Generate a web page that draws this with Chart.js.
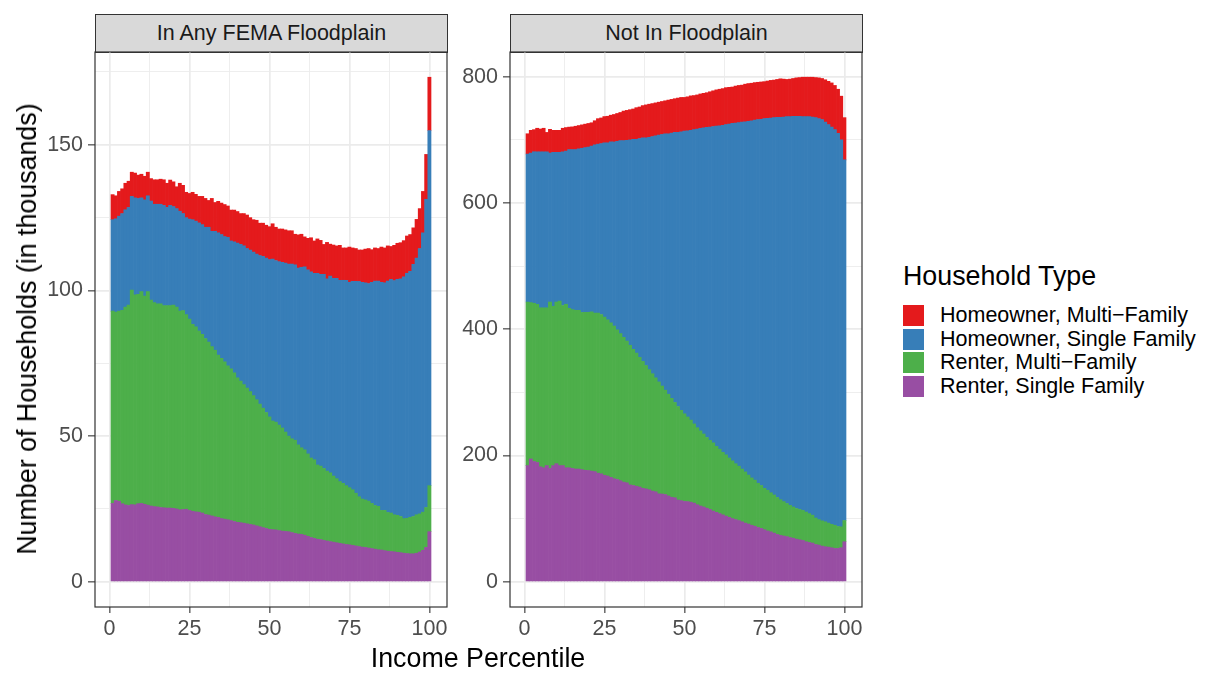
<!DOCTYPE html>
<html>
<head>
<meta charset="utf-8">
<script src="https://cdn.jsdelivr.net/npm/chart.js@4.4.1/dist/chart.umd.min.js"></script>
<style>
    body { margin: 0; width: 1207px; height: 673px; background: #fff; position: relative; overflow: hidden;
           font-family: "Liberation Sans", Arial, Helvetica, sans-serif; }
    canvas { position: absolute; }
    .strip { position: absolute; top: 14px; height: 39px; width: 353px; box-sizing: border-box;
             background: #D9D9D9; border: 1.2px solid #333; text-align: center; line-height: 37px;
             font-size: 21.5px; color: #1A1A1A; }
    .axis-title { position: absolute; font-size: 26.8px; color: #000; white-space: nowrap;
                  transform: translate(-50%, -50%); line-height: 30px; }
    #legend { position: absolute; left: 903px; top: 260px; color: #000; }
    #legend .lg-title { font-size: 26.8px; line-height: 32px; height: 43.5px; }
    #legend .lg-row { height: 23.7px; display: flex; align-items: center; font-size: 21.5px; white-space: nowrap; }
    #legend .key { width: 21px; height: 21px; margin-right: 16px; flex: none; }
</style>
</head>
<body>
<div class="strip" style="left:95px" id="strip0"></div>
<div class="strip" style="left:510px" id="strip1"></div>
<canvas id="floodChart" width="460" height="633" style="left:0px; top:40px"></canvas>
<canvas id="dryChart" width="460" height="633" style="left:415px; top:40px"></canvas>
<div class="axis-title" style="left:478px; top:658px">Income Percentile</div>
<div class="axis-title" style="left:27px; top:329px; transform: translate(-50%, -50%) rotate(-90deg)">Number of Households (in thousands)</div>
<div id="legend"></div>

<script>
const percentiles = Array.from({ length: 100 }, (_, i) => i + 1);
const panelTitles = ['In Any FEMA Floodplain', 'Not In Floodplain'];
const legendTitle = 'Household Type';
// legend order (top of stack first)
const seriesNames = ['Homeowner, Multi\u2212Family', 'Homeowner, Single Family', 'Renter, Multi\u2212Family', 'Renter, Single Family'];
const seriesColors = ['#E41A1C', '#377EB8', '#4DAF4A', '#984EA3'];
const xTickLabels = [0, 25, 50, 75, 100];
const floodYTicks = [0, 50, 100, 150];
const dryYTicks = [0, 200, 400, 600, 800];

// In any FEMA floodplain, households in thousands, percentile 1..100
const floodRenterSingle = [
    26.9, 27.9, 27.6, 26.8, 26.4, 26.2, 26.5, 26.4, 26.8, 26.9,
    26.6, 26.3, 26.0, 25.8, 25.7, 25.5, 25.4, 25.3, 25.3, 25.2,
    25.0, 24.7, 24.8, 24.9, 24.5, 24.2, 24.0, 23.9, 23.6, 23.1,
    22.9, 22.6, 22.3, 22.1, 21.7, 21.5, 21.3, 21.0, 20.7, 20.4,
    20.3, 20.1, 19.9, 19.7, 19.5, 19.2, 18.9, 18.6, 18.3, 18.0,
    17.9, 17.8, 17.6, 17.4, 17.3, 17.2, 16.9, 16.6, 16.4, 16.3,
    16.0, 15.6, 15.2, 14.9, 14.6, 14.5, 14.2, 14.0, 13.8, 13.6,
    13.4, 13.2, 13.0, 12.8, 12.7, 12.5, 12.3, 12.1, 11.9, 11.8,
    11.6, 11.4, 11.2, 11.0, 10.9, 10.7, 10.5, 10.4, 10.3, 10.1,
    10.0, 9.8, 9.7, 9.6, 9.6, 9.8, 10.2, 10.8, 11.8, 17.2
];
const floodRenterMulti = [
    66.0, 64.7, 65.3, 66.4, 67.9, 68.8, 73.6, 72.1, 71.9, 72.7,
    71.5, 73.3, 70.7, 70.0, 69.7, 69.9, 69.4, 69.5, 69.5, 69.8,
    69.3, 68.2, 68.3, 66.8, 65.7, 64.2, 63.5, 62.2, 61.3, 60.4,
    59.4, 58.1, 57.2, 55.7, 55.0, 54.0, 52.8, 52.1, 51.0, 49.6,
    48.6, 47.6, 46.6, 45.6, 44.4, 43.3, 42.1, 41.0, 39.8, 38.6,
    37.3, 37.0, 36.2, 35.4, 34.1, 32.8, 32.2, 32.0, 30.6, 29.7,
    29.3, 28.3, 27.3, 27.0, 25.5, 25.2, 24.7, 24.0, 23.6, 22.7,
    22.0, 21.2, 20.8, 20.2, 19.6, 19.1, 18.1, 17.1, 16.5, 16.3,
    16.1, 15.5, 15.0, 14.9, 13.6, 13.8, 13.3, 13.2, 12.7, 12.7,
    12.4, 11.9, 12.1, 12.5, 12.8, 13.2, 13.1, 13.1, 13.7, 15.8
];
const floodOwnerSingle = [
    31.4, 32.0, 32.6, 33.2, 33.4, 33.5, 32.2, 33.3, 32.9, 32.2,
    33.0, 32.9, 34.0, 33.8, 34.2, 34.2, 34.4, 33.7, 34.4, 33.8,
    33.8, 34.3, 33.3, 33.3, 34.3, 35.9, 36.3, 37.1, 37.7, 38.2,
    39.4, 39.6, 40.8, 42.0, 42.5, 43.0, 44.1, 43.9, 45.0, 46.3,
    46.9, 47.6, 47.9, 48.6, 49.3, 50.0, 51.0, 52.1, 53.0, 54.0,
    55.6, 55.5, 56.1, 56.9, 58.0, 59.1, 60.0, 60.2, 60.7, 61.9,
    62.8, 63.2, 63.9, 64.0, 65.8, 65.8, 66.6, 66.0, 67.5, 67.9,
    68.8, 69.1, 69.7, 70.5, 70.5, 71.5, 72.7, 73.9, 74.4, 74.5,
    74.7, 75.9, 77.0, 77.3, 78.3, 78.1, 79.4, 80.2, 80.4, 81.0,
    81.6, 83.0, 84.1, 84.5, 86.6, 88.1, 91.1, 95.9, 105.8, 121.9
];
const floodOwnerMulti = [
    8.6, 7.9, 8.5, 8.5, 9.1, 9.0, 8.3, 8.5, 8.0, 8.1,
    8.1, 8.1, 7.7, 8.4, 8.4, 8.6, 8.8, 8.3, 8.7, 8.5,
    7.5, 9.6, 9.7, 8.7, 8.8, 9.4, 9.2, 9.1, 9.7, 9.9,
    9.2, 11.3, 9.9, 10.8, 10.8, 11.0, 10.8, 10.6, 10.9, 10.8,
    10.6, 11.1, 11.5, 11.1, 11.1, 11.6, 11.1, 11.4, 11.3, 11.3,
    12.1, 11.4, 11.2, 11.4, 11.4, 11.4, 11.4, 10.5, 11.4, 11.4,
    10.3, 10.8, 11.7, 11.1, 11.8, 11.7, 10.3, 12.5, 11.0, 11.4,
    11.1, 12.0, 11.1, 11.1, 12.1, 11.5, 11.3, 10.8, 11.1, 11.6,
    12.0, 11.2, 11.4, 11.2, 12.1, 12.0, 12.1, 11.3, 12.1, 12.4,
    12.4, 12.4, 12.8, 12.6, 12.5, 13.3, 13.7, 14.2, 15.4, 18.3
];

// Not in floodplain, households in thousands, percentile 1..100
const dryRenterSingle = [
    184.0, 194.5, 190.5, 189.0, 182.0, 180.5, 184.0, 179.5, 184.0, 187.0,
    184.0, 184.0, 180.5, 180.5, 179.5, 178.5, 178.5, 177.5, 176.5, 176.3,
    175.2, 174.5, 172.0, 171.0, 168.7, 167.5, 165.4, 163.2, 162.0, 160.0,
    157.8, 156.7, 153.4, 152.5, 151.3, 150.0, 148.0, 147.0, 145.8, 143.6,
    142.5, 139.3, 139.0, 138.2, 136.0, 133.8, 133.0, 129.5, 128.5, 127.3,
    127.0, 126.0, 124.5, 122.0, 120.0, 118.5, 116.5, 114.5, 112.0, 110.0,
    108.0, 106.0, 104.0, 102.0, 100.0, 98.5, 97.0, 95.0, 93.0, 91.5,
    89.5, 88.0, 86.0, 84.5, 82.5, 80.5, 79.0, 77.0, 75.0, 73.5,
    72.5, 71.5, 70.0, 69.0, 67.5, 66.5, 65.5, 63.4, 62.3, 61.3,
    59.1, 58.1, 56.5, 55.5, 54.9, 53.8, 52.8, 52.8, 54.0, 63.4
];
const dryRenterMulti = [
    259.0, 247.5, 250.5, 250.5, 252.0, 253.5, 250.0, 263.5, 252.0, 256.0,
    260.5, 253.5, 259.0, 252.5, 251.5, 251.5, 251.5, 249.0, 250.0, 250.2,
    252.3, 251.0, 253.5, 252.3, 250.3, 247.5, 244.6, 241.8, 237.0, 233.0,
    229.2, 224.3, 221.1, 215.5, 210.7, 205.5, 201.0, 195.5, 190.2, 185.9,
    180.5, 177.2, 171.0, 165.3, 161.0, 156.7, 151.0, 148.0, 143.0, 138.7,
    134.0, 130.0, 125.5, 122.0, 119.0, 115.5, 112.0, 109.5, 108.0, 104.5,
    102.0, 99.0, 97.0, 94.0, 91.5, 88.5, 86.0, 83.5, 81.0, 77.5,
    75.0, 73.0, 70.0, 68.0, 65.5, 64.5, 62.0, 60.5, 58.5, 56.5,
    54.5, 52.5, 51.0, 49.5, 48.5, 48.0, 47.5, 47.1, 45.7, 44.2,
    41.9, 40.4, 40.0, 39.5, 38.1, 37.2, 36.7, 34.7, 33.0, 33.6
];
const dryOwnerSingle = [
    234.4, 237.0, 240.0, 241.5, 247.0, 247.0, 247.0, 236.0, 244.0, 237.0,
    235.5, 243.5, 242.5, 251.4, 253.4, 254.4, 255.5, 260.0, 261.0, 261.7,
    262.5, 266.5, 267.5, 270.7, 276.3, 280.3, 286.5, 291.5, 298.5, 305.6,
    311.6, 318.2, 325.2, 332.8, 338.8, 346.5, 354.0, 360.5, 368.0, 375.6,
    383.2, 390.8, 398.4, 406.0, 412.5, 420.1, 427.6, 434.1, 441.2, 447.8,
    453.0, 459.0, 466.0, 473.0, 479.0, 485.0, 491.0, 496.0, 501.0, 507.0,
    512.0, 518.0, 523.0, 529.0, 534.5, 539.5, 544.0, 549.5, 554.5, 560.0,
    565.5, 570.0, 576.0, 580.0, 585.5, 589.0, 593.5, 597.5, 602.0, 605.5,
    609.0, 612.5, 615.5, 618.5, 621.0, 622.5, 623.5, 626.0, 628.5, 630.5,
    634.0, 635.0, 635.5, 633.0, 631.0, 629.0, 626.5, 622.5, 613.0, 571.0
];
const dryOwnerMulti = [
    32.1, 35.9, 35.0, 37.2, 36.0, 37.2, 30.6, 37.5, 34.9, 34.9,
    34.9, 37.2, 37.3, 35.6, 36.0, 37.0, 37.0, 37.1, 37.2, 37.6,
    36.9, 38.1, 40.4, 40.5, 41.4, 41.9, 42.4, 43.5, 44.1, 44.6,
    46.8, 47.3, 47.9, 47.9, 50.0, 49.9, 51.1, 52.2, 52.3, 52.2,
    52.2, 52.2, 52.2, 52.2, 53.3, 53.3, 53.4, 54.4, 54.3, 53.2,
    54.0, 54.5, 54.0, 54.0, 54.5, 54.5, 55.0, 56.0, 56.5, 57.5,
    58.0, 58.0, 58.5, 58.0, 57.5, 58.5, 59.0, 58.5, 59.5, 60.0,
    59.5, 59.5, 59.0, 59.0, 58.5, 59.0, 59.5, 59.5, 60.0, 61.0,
    60.0, 59.0, 59.5, 60.0, 61.0, 61.5, 62.5, 62.5, 62.5, 63.0,
    63.5, 64.5, 65.0, 67.0, 68.5, 70.0, 70.0, 70.0, 69.0, 67.0
];

const FONT = '"Liberation Sans", Arial, Helvetica, sans-serif';

const panelBorder = {
    id: 'panelBorder',
    afterDraw(chart) {
        const a = chart.chartArea;
        const ctx = chart.ctx;
        ctx.save();
        ctx.strokeStyle = '#333333';
        ctx.lineWidth = 1.2;
        ctx.strokeRect(a.left, a.top, a.right - a.left, a.bottom - a.top);
        ctx.restore();
    }
};

// major breaks plus the ggplot-style minor breaks halfway between them
function withMinor(major, max) {
    const half = (major[1] - major[0]) / 2;
    const out = [];
    for (let v = major[0]; v <= max; v += half) out.push(v);
    return out;
}

function makePanel(canvasId, bottomToTop, yMajor) {
    const totals = percentiles.map((_, i) => bottomToTop.reduce((s, arr) => s + arr[i], 0));
    const top = Math.max(...totals);
    const yMin = -0.05 * top, yMax = 1.05 * top;
    const yGrid = withMinor(yMajor, yMax);
    const xGrid = withMinor(xTickLabels, 105.5);
    const isMajorY = v => yMajor.includes(v);
    const isMajorX = v => xTickLabels.includes(v);

    // stack from the bottom: renter single, renter multi, owner single, owner multi
    const colorsBottomUp = seriesColors.slice().reverse();
    const namesBottomUp = seriesNames.slice().reverse();

    return new Chart(document.getElementById(canvasId), {
        type: 'bar',
        data: {
            datasets: bottomToTop.map((arr, k) => ({
                label: namesBottomUp[k],
                data: percentiles.map((p, i) => ({ x: p, y: arr[i] })),
                backgroundColor: colorsBottomUp[k],
                borderWidth: 0,
                stack: 'households',
                barPercentage: 1,
                categoryPercentage: 1
            }))
        },
        options: {
            responsive: false,
            animation: false,
            layout: { autoPadding: false, padding: { top: 12, right: 13, bottom: 0, left: 0 } },
            plugins: { legend: { display: false }, tooltip: { enabled: false } },
            scales: {
                x: {
                    type: 'linear',
                    min: -4.5, max: 105.5,
                    offset: false,
                    border: { display: false },
                    afterBuildTicks: axis => { axis.ticks = xGrid.map(v => ({ value: v })); },
                    afterFit: axis => {
                        axis.height = 66;
                        axis.paddingLeft = 0; axis.paddingRight = 0;
                    },
                    grid: {
                        offset: false,
                        color: '#EBEBEB',
                        lineWidth: c => isMajorX(c.tick.value) ? 1.7 : 0.85,
                        tickLength: 6,
                        tickWidth: 1.1,
                        tickColor: c => isMajorX(c.tick.value) ? '#333333' : 'rgba(0,0,0,0)'
                    },
                    ticks: {
                        autoSkip: false, maxRotation: 0, padding: 3,
                        color: '#4D4D4D',
                        font: { family: FONT, size: 21.5 },
                        callback: v => isMajorX(v) ? String(v) : ''
                    }
                },
                y: {
                    stacked: true,
                    min: yMin, max: yMax,
                    border: { display: false },
                    afterBuildTicks: axis => { axis.ticks = yGrid.map(v => ({ value: v })); },
                    afterFit: axis => {
                        axis.width = 95;
                        axis.paddingTop = 0; axis.paddingBottom = 0;
                    },
                    grid: {
                        color: '#EBEBEB',
                        lineWidth: c => isMajorY(c.tick.value) ? 1.7 : 0.85,
                        tickLength: 7,
                        tickWidth: 1.1,
                        tickColor: c => isMajorY(c.tick.value) ? '#333333' : 'rgba(0,0,0,0)'
                    },
                    ticks: {
                        padding: 5,
                        color: '#4D4D4D',
                        font: { family: FONT, size: 21.5 },
                        callback: v => isMajorY(v) ? String(v) : ''
                    }
                }
            }
        },
        plugins: [panelBorder]
    });
}

document.getElementById('strip0').textContent = panelTitles[0];
document.getElementById('strip1').textContent = panelTitles[1];

makePanel('floodChart', [floodRenterSingle, floodRenterMulti, floodOwnerSingle, floodOwnerMulti], floodYTicks);
makePanel('dryChart', [dryRenterSingle, dryRenterMulti, dryOwnerSingle, dryOwnerMulti], dryYTicks);

// legend
const legend = document.getElementById('legend');
legend.innerHTML = `<div class="lg-title">${legendTitle}</div>` +
    seriesNames.map((name, k) => `
        <div class="lg-row"><span class="key" style="background:${seriesColors[k]}"></span><span>${name}</span></div>
    `).join('');
</script>
</body>
</html>
